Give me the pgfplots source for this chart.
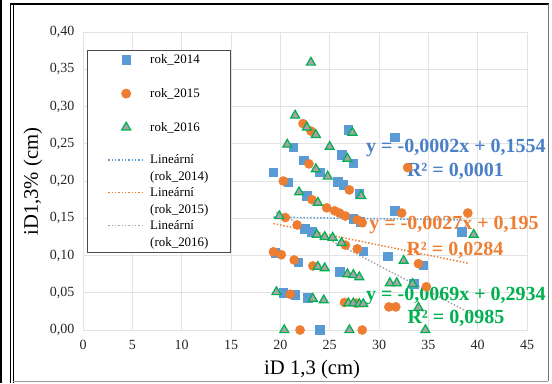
\documentclass[border=0pt]{standalone}
\usepackage{fontspec}
\setmainfont{Liberation Serif}
\usepackage{pgfplots}
\pgfplotsset{compat=1.18}
\definecolor{c14}{HTML}{5B9BD5}
\definecolor{c15}{HTML}{ED7D31}
\definecolor{c16}{HTML}{00B050}
\definecolor{c16f}{HTML}{A5A5A5}
\definecolor{t14}{HTML}{4A80C6}
\definecolor{gridc}{HTML}{E3E3E3}
\pgfplotsset{
  legmark/.style={legend image code/.code={\draw[mark repeat=2,mark phase=2,##1] plot coordinates {(0pt,3pt)(13.5pt,3pt)(27pt,3pt)};}},
  legline/.style={legend image code/.code={\draw[##1] (0pt,3pt) -- (27pt,3pt);}},
}
\newcommand{\PX}[2]{({(#1-83)*0.75pt},{(330-#2)*0.75pt})}
\begin{document}
\begin{tikzpicture}
\path[use as bounding box] \PX{0}{0} rectangle \PX{552}{383};
\draw[line width=1.1pt] \PX{1}{0} -- \PX{1}{383};
\draw[line width=0.7pt] \PX{10.5}{3.5} -- \PX{10.5}{383};
\draw[line width=0.7pt] \PX{13}{5} -- \PX{13}{383};
\draw[line width=1.4pt] \PX{10}{4} -- \PX{549}{4};
\draw[black!55, line width=0.7pt] \PX{548}{4} -- \PX{548}{381};
\draw[black!40, line width=0.6pt] \PX{13}{381} -- \PX{548}{381};
\begin{axis}[
  at={(0,0)}, anchor=south west,
  width=333pt, height=223.5pt, scale only axis,
  xmin=0, xmax=45, ymin=0, ymax=0.4,
  xtick={0,5,...,45}, ytick={0,0.05,0.1,0.15,0.2,0.25,0.3,0.35,0.4},
  grid=major, grid style={draw=gridc, line width=0.7pt},
  axis line style={draw=gridc, line width=0.7pt},
  major tick length=0pt,
  clip=false,
  /pgf/number format/assume math mode=true,
  /pgf/number format/use comma,
  tick label style={font=\fontsize{10.5}{12}\selectfont, text=black!85},
  yticklabel style={/pgf/number format/fixed, /pgf/number format/fixed zerofill, /pgf/number format/precision=2, xshift=-3pt},
  xticklabel style={yshift=-4pt},
  xlabel={iD 1,3 (cm)},
  ylabel={iD1,3\% (cm)},
  xlabel style={font=\fontsize{15.5}{17}\selectfont, at={(axis description cs:0.516,-0.134)}, anchor=center},
  ylabel style={font=\fontsize{15.5}{17}\selectfont, at={(axis description cs:-0.1126,0.498)}, anchor=center},
  legend style={at={(axis cs:0.41,0.376)}, anchor=north west, draw=black!70, line width=0.6pt, fill=white,
    font=\fontsize{9.7}{12.3}\selectfont, inner xsep=15pt, inner ysep=1.5pt,
    nodes={inner sep=1pt, anchor=base west, text height=, text depth=}, column sep=3pt, row sep=1.6pt},
  legend cell align=left,
]
\addplot[only marks, mark=square*, mark size=3.2pt, color=c14, fill=c14, legmark]
table {
19.3 0.212
19.5 0.104
20.3 0.050
20.8 0.198
21.3 0.245
21.5 0.047
21.8 0.091
22.4 0.228
22.5 0.136
22.7 0.180
22.8 0.043
23.2 0.132
24.0 0.212
24.0 0.000
25.8 0.199
26.0 0.078
26.2 0.235
26.4 0.195
26.9 0.269
27.4 0.224
27.4 0.149
28.0 0.183
28.1 0.145
28.4 0.106
30.9 0.099
31.6 0.259
31.6 0.160
33.5 0.062
34.5 0.087
38.4 0.132
};
\addlegendentry{\makebox[44pt][l]{\rule[-14pt]{0pt}{21.7pt}rok\_2014}}
\addplot[only marks, mark=*, mark size=3.4pt, color=c15, fill=c15, legmark]
table {
19.3 0.105
20.1 0.101
20.3 0.200
20.5 0.151
21.0 0.048
21.4 0.094
21.7 0.141
22.0 0.000
22.3 0.277
22.9 0.223
23.1 0.267
23.2 0.175
23.3 0.086
24.7 0.164
25.5 0.160
26.0 0.157
26.5 0.037
26.6 0.153
26.6 0.114
27.0 0.188
27.7 0.036
27.8 0.148
27.8 0.109
28.3 0.144
28.3 0.000
31.0 0.031
31.7 0.031
32.3 0.157
32.9 0.218
34.0 0.089
34.8 0.058
39.0 0.157
};
\addlegendentry{\makebox[44pt][l]{\rule[-14pt]{0pt}{21.7pt}rok\_2015}}
\addplot[only marks, mark=triangle*, mark size=3.9pt, draw=c16, fill=c16f, line width=0.9pt, legmark]
table {
19.6 0.051
19.9 0.153
20.4 0.000
20.7 0.249
21.5 0.288
21.9 0.185
22.7 0.272
23.1 0.359
23.3 0.042
23.6 0.262
23.6 0.216
23.8 0.171
23.7 0.128
23.8 0.085
24.4 0.040
24.5 0.125
24.5 0.083
24.8 0.206
25.0 0.246
25.3 0.124
26.2 0.117
26.8 0.230
26.8 0.075
26.9 0.036
27.0 0.000
27.3 0.265
27.4 0.074
27.4 0.036
28.0 0.071
28.0 0.035
28.4 0.035
28.2 0.180
31.1 0.063
31.8 0.063
32.5 0.093
33.4 0.062
34.0 0.030
34.7 0.000
39.6 0.128
};
\addlegendentry{\makebox[44pt][l]{\rule[-14pt]{0pt}{21.7pt}rok\_2016}}
\addplot[c14, line width=1.1pt, dash pattern=on 1.1pt off 1.4pt, legline]
coordinates {(19.3,0.1515) (38.4,0.1477)};
\addlegendentry{\parbox[t]{44pt}{Lineární\\(rok\_2014)}}
\addplot[c15, line width=1.1pt, dash pattern=on 1.1pt off 1.4pt, legline]
coordinates {(19.3,0.1429) (39.0,0.0897)};
\addlegendentry{\parbox[t]{44pt}{Lineární\\(rok\_2015)}}
\addplot[c16f, line width=1.1pt, dash pattern=on 1.1pt off 1.4pt, legline]
coordinates {(19.6,0.1582) (39.6,0.0202)};
\addlegendentry{\parbox[t]{44pt}{Lineární\\(rok\_2016)}}
\node[font=\fontsize{15}{16}\selectfont\bfseries, text=t14] at (axis cs:37.8,0.2446) {y = -0,0002x + 0,1554};
\node[font=\fontsize{15}{16}\selectfont\bfseries, text=t14] at (axis cs:37.75,0.2124) {R² = 0,0001};
\node[font=\fontsize{15}{16}\selectfont\bfseries, text=c15] at (axis cs:37.6,0.141) {y = -0,0027x + 0,195};
\node[font=\fontsize{15}{16}\selectfont\bfseries, text=c15] at (axis cs:37.7,0.1075) {R² = 0,0284};
\node[font=\fontsize{15}{16}\selectfont\bfseries, text=c16] at (axis cs:37.8,0.0457) {y = -0,0069x + 0,2934};
\node[font=\fontsize{15}{16}\selectfont\bfseries, text=c16] at (axis cs:37.8,0.0161) {R² = 0,0985};
\end{axis}
\end{tikzpicture}
\end{document}
